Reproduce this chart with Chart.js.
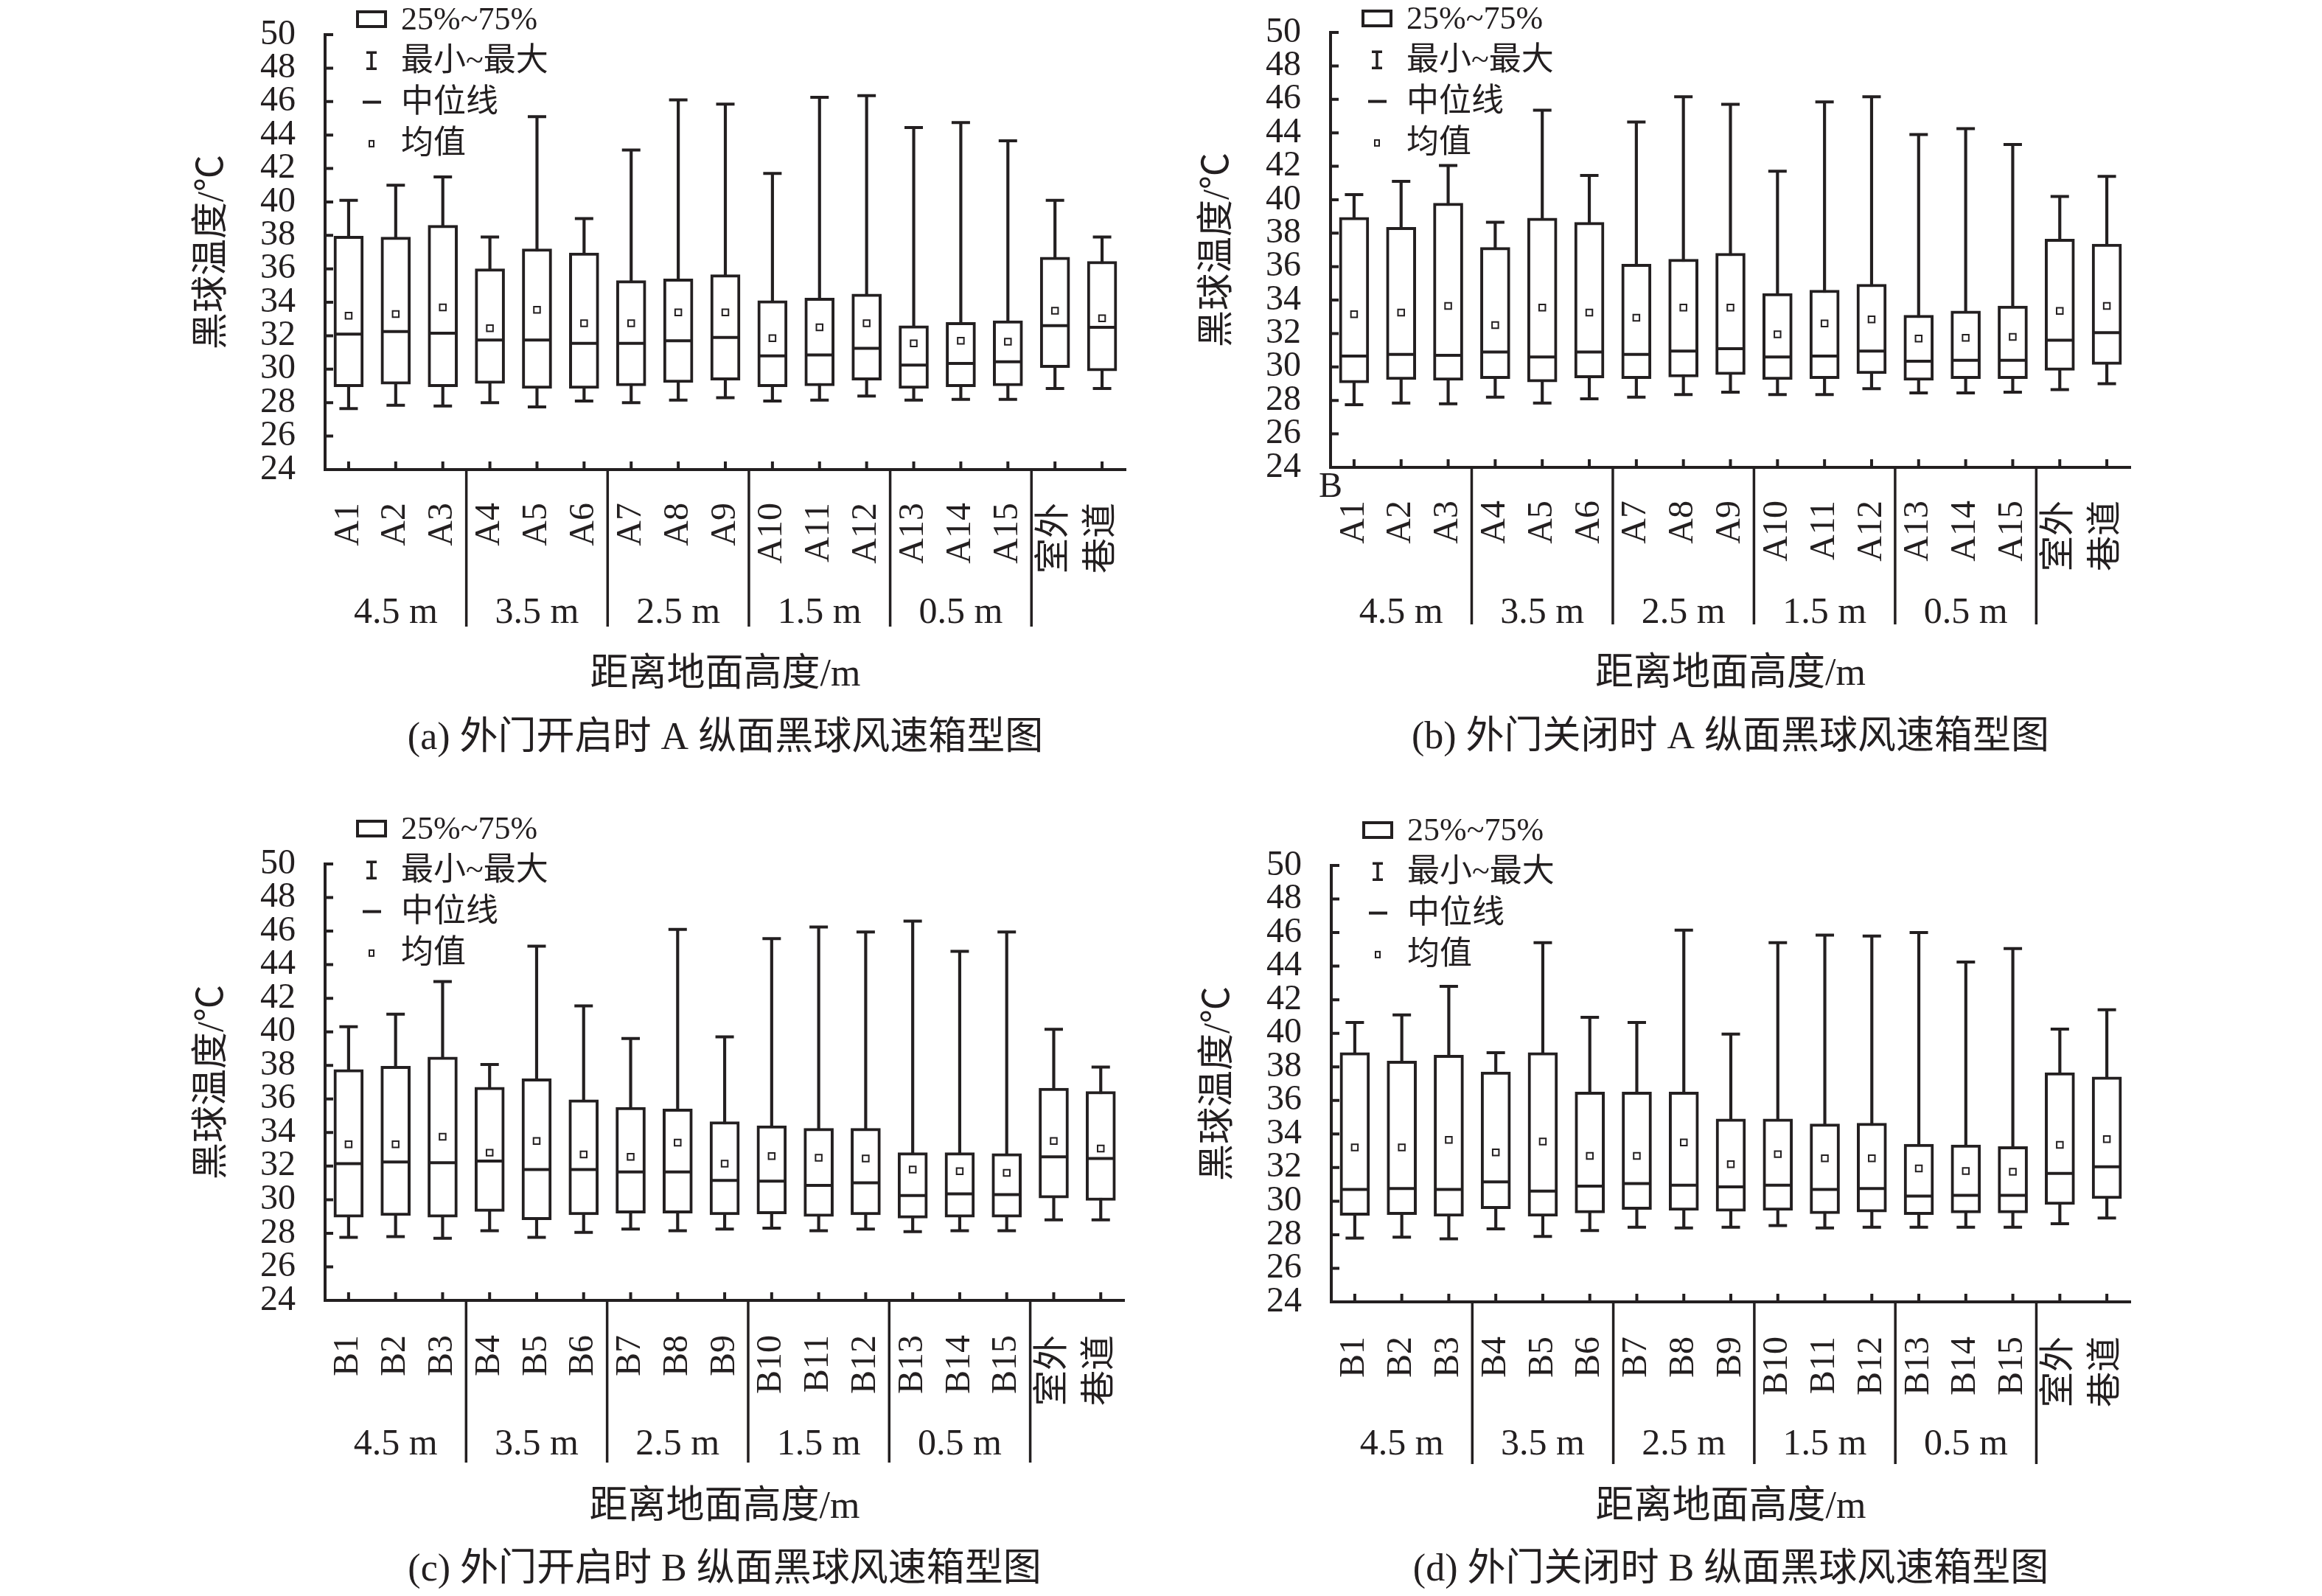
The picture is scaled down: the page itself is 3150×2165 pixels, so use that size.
<!DOCTYPE html>
<html lang="zh">
<head>
<meta charset="UTF-8">
<title>黑球温度箱型图</title>
<script src="https://cdn.jsdelivr.net/npm/chart.js"></script>
<style>
  html, body { margin: 0; padding: 0; background: #fff; }
  #page { position: relative; width: 3150px; height: 2165px; background: #fff; overflow: hidden; }
  #page canvas { position: absolute; }
</style>
</head>
<body>
<div id="page">
  <canvas id="chartA"></canvas>
  <canvas id="chartB"></canvas>
  <canvas id="chartC"></canvas>
  <canvas id="chartD"></canvas>
</div>
<script>
// categories and ticks
const labelsA = ['A1','A2','A3','A4','A5','A6','A7','A8','A9','A10','A11','A12','A13','A14','A15','室外','巷道'];
const labelsB = ['B1','B2','B3','B4','B5','B6','B7','B8','B9','B10','B11','B12','B13','B14','B15','室外','巷道'];
const groupNames = ['4.5 m','3.5 m','2.5 m','1.5 m','0.5 m'];
const yTickValues = [24,26,28,30,32,34,36,38,40,42,44,46,48,50];

// (a) 外门开启时 A 纵面
const openAMax  = [40.1, 41.0, 41.5, 37.9, 45.1, 39.0, 43.1, 46.1, 45.85, 41.7, 46.25, 46.35, 44.45, 44.75, 43.65, 40.1, 37.9];
const openAQ3   = [37.95, 37.9, 38.6, 36.0, 37.2, 36.95, 35.3, 35.4, 35.65, 34.1, 34.25, 34.5, 32.6, 32.8, 32.9, 36.7, 36.45];
const openAMed  = [32.1, 32.25, 32.15, 31.75, 31.75, 31.55, 31.55, 31.7, 31.9, 30.8, 30.85, 31.25, 30.25, 30.35, 30.45, 32.6, 32.5];
const openAMean = [33.2, 33.3, 33.7, 32.45, 33.55, 32.75, 32.75, 33.4, 33.4, 31.85, 32.5, 32.75, 31.55, 31.7, 31.65, 33.5, 33.05];
const openAQ1   = [28.95, 29.1, 28.95, 29.15, 28.85, 28.85, 29.0, 29.2, 29.35, 28.95, 29.0, 29.35, 28.85, 28.95, 29.0, 30.1, 29.9];
const openAMin  = [27.65, 27.85, 27.8, 28.0, 27.75, 28.1, 28.0, 28.15, 28.3, 28.1, 28.15, 28.4, 28.15, 28.2, 28.2, 28.85, 28.85];

// (b) 外门关闭时 A 纵面
const closeAMax  = [40.3, 41.1, 42.05, 38.65, 45.35, 41.45, 44.65, 46.15, 45.7, 41.7, 45.85, 46.15, 43.9, 44.25, 43.3, 40.2, 41.4];
const closeAQ3   = [38.95, 38.35, 39.8, 37.15, 38.9, 38.65, 36.15, 36.45, 36.8, 34.4, 34.6, 34.95, 33.1, 33.35, 33.65, 37.65, 37.35];
const closeAMed  = [30.65, 30.75, 30.7, 30.9, 30.6, 30.9, 30.75, 30.95, 31.1, 30.6, 30.65, 30.95, 30.35, 30.4, 30.4, 31.6, 32.05];
const closeAMean = [33.15, 33.25, 33.65, 32.5, 33.55, 33.25, 32.95, 33.55, 33.55, 31.95, 32.6, 32.85, 31.7, 31.75, 31.8, 33.35, 33.65];
const closeAQ1   = [29.05, 29.25, 29.2, 29.3, 29.1, 29.35, 29.3, 29.4, 29.55, 29.25, 29.3, 29.6, 29.2, 29.3, 29.3, 29.8, 30.15];
const closeAMin  = [27.75, 27.85, 27.8, 28.2, 27.85, 28.1, 28.2, 28.35, 28.5, 28.35, 28.35, 28.7, 28.45, 28.45, 28.5, 28.65, 29.0];

// (c) 外门开启时 B 纵面
const openBMax  = [40.3, 41.05, 43.0, 38.05, 45.1, 41.55, 39.6, 46.1, 39.7, 45.55, 46.25, 45.95, 46.6, 44.8, 45.95, 40.15, 37.9];
const openBQ3   = [37.75, 37.95, 38.5, 36.7, 37.2, 35.95, 35.5, 35.4, 34.65, 34.4, 34.25, 34.25, 32.8, 32.8, 32.75, 36.65, 36.45];
const openBMed  = [32.15, 32.25, 32.2, 32.3, 31.8, 31.8, 31.65, 31.65, 31.15, 31.1, 30.85, 31.0, 30.25, 30.35, 30.3, 32.55, 32.45];
const openBMean = [33.3, 33.3, 33.75, 32.8, 33.5, 32.7, 32.55, 33.4, 32.15, 32.6, 32.5, 32.45, 31.8, 31.7, 31.6, 33.5, 33.05];
const openBQ1   = [28.95, 29.05, 28.95, 29.3, 28.8, 29.1, 29.2, 29.2, 29.1, 29.15, 29.0, 29.1, 28.9, 28.95, 28.95, 30.1, 29.95];
const openBMin  = [27.75, 27.8, 27.7, 28.15, 27.75, 28.05, 28.25, 28.15, 28.25, 28.3, 28.15, 28.25, 28.1, 28.15, 28.15, 28.8, 28.8];

// (d) 外门关闭时 B 纵面
const closeBMax  = [40.65, 41.1, 42.8, 38.85, 45.4, 40.95, 40.65, 46.15, 39.95, 45.4, 45.85, 45.8, 46.0, 44.25, 45.05, 40.25, 41.4];
const closeBQ3   = [38.85, 38.35, 38.7, 37.7, 38.85, 36.5, 36.5, 36.5, 34.9, 34.9, 34.6, 34.65, 33.4, 33.35, 33.25, 37.65, 37.4];
const closeBMed  = [30.7, 30.75, 30.7, 31.15, 30.6, 30.9, 31.05, 30.95, 30.85, 30.95, 30.7, 30.75, 30.3, 30.35, 30.35, 31.65, 32.05];
const closeBMean = [33.2, 33.2, 33.65, 32.9, 33.55, 32.7, 32.7, 33.5, 32.2, 32.8, 32.55, 32.55, 31.95, 31.8, 31.75, 33.35, 33.7];
const closeBQ1   = [29.15, 29.2, 29.1, 29.55, 29.1, 29.3, 29.5, 29.45, 29.4, 29.45, 29.25, 29.35, 29.2, 29.3, 29.3, 29.8, 30.15];
const closeBMin  = [27.8, 27.85, 27.75, 28.35, 27.9, 28.25, 28.45, 28.4, 28.45, 28.55, 28.4, 28.45, 28.45, 28.45, 28.45, 28.65, 29.0];

const INK = '#231f20';
const FONT = "'Liberation Serif', 'Noto Sans CJK SC', serif";

// page layout: plot area [left, top, right, bottom] in page pixels
const panels = [
  { id: 'chartA', top: 0, h: 1080, area: [441, 47, 1527, 637], labels: labelsA,
    max: openAMax, q3: openAQ3, med: openAMed, mean: openAMean, q1: openAQ1, min: openAMin,
    caption: '(a) 外门开启时 A 纵面黑球风速箱型图', legendTop: -21, lab: 45, grp: 195, sep: 213, ttl: 279, cap: 365 },
  { id: 'chartB', top: 0, h: 1080, area: [1805, 44, 2890, 634], labels: labelsA,
    max: closeAMax, q3: closeAQ3, med: closeAMed, mean: closeAMean, q1: closeAQ1, min: closeAMin,
    caption: '(b) 外门关闭时 A 纵面黑球风速箱型图', legendTop: -19, lab: 45, grp: 198, sep: 213, ttl: 281, cap: 367, stray: 'B' },
  { id: 'chartC', top: 1100, h: 1065, area: [441, 1172, 1527, 1764], labels: labelsB,
    max: openBMax, q3: openBQ3, med: openBMed, mean: openBMean, q1: openBQ1, min: openBMin,
    caption: '(c) 外门开启时 B 纵面黑球风速箱型图', legendTop: -48, lab: 47, grp: 196, sep: 220, ttl: 281, cap: 366 },
  { id: 'chartD', top: 1100, h: 1065, area: [1806, 1174, 2890, 1766], labels: labelsB,
    max: closeBMax, q3: closeBQ3, med: closeBMed, mean: closeBMean, q1: closeBQ1, min: closeBMin,
    caption: '(d) 外门关闭时 B 纵面黑球风速箱型图', legendTop: -48, lab: 47, grp: 194, sep: 220, ttl: 279, cap: 364 }
];

const panelDeco = {
  id: 'panelDeco',
  afterDraw(chart, args, o) {
    const { ctx, chartArea: a, scales: { x, y } } = chart;
    const px = i => x.getPixelForValue(i);
    ctx.save();
    ctx.strokeStyle = INK;
    ctx.fillStyle = INK;

    // ticks point inward
    ctx.lineWidth = 4;
    ctx.beginPath();
    yTickValues.forEach(v => {
      const py = y.getPixelForValue(v);
      ctx.moveTo(a.left, py); ctx.lineTo(a.left + 11, py);
    });
    chart.data.labels.forEach((l, i) => {
      ctx.moveTo(px(i), a.bottom); ctx.lineTo(px(i), a.bottom - 11);
    });
    ctx.stroke();

    // group separators under the axis
    ctx.lineWidth = 3.5;
    ctx.beginPath();
    [2, 5, 8, 11, 14].forEach(i => {
      const sx = (px(i) + px(i + 1)) / 2;
      ctx.moveTo(sx, a.bottom); ctx.lineTo(sx, a.bottom + o.sep);
    });
    ctx.stroke();

    ctx.textAlign = 'center';
    ctx.textBaseline = 'middle';
    ctx.font = '50px ' + FONT;
    groupNames.forEach((g, k) => {
      ctx.fillText(g, (px(3 * k) + px(3 * k + 2)) / 2, a.bottom + o.grp);
    });

    ctx.font = '52px ' + FONT;
    ctx.fillText(o.caption, (a.left + a.right) / 2, a.bottom + o.cap);

    if (o.stray) {
      ctx.font = '48px ' + FONT;
      ctx.fillText(o.stray, a.left, a.bottom + 27);
    }

    // legend
    const lx = a.left + 63;
    const rows = [0, 1, 2, 3].map(r => a.top + o.legendTop + r * 56.3);
    ctx.lineWidth = 4;
    ctx.strokeRect(lx - 19, rows[0] - 10, 38, 20);
    ctx.lineWidth = 3.5;
    ctx.beginPath();
    ctx.moveTo(lx, rows[1] - 11); ctx.lineTo(lx, rows[1] + 11);
    ctx.moveTo(lx - 7, rows[1] - 11); ctx.lineTo(lx + 7, rows[1] - 11);
    ctx.moveTo(lx - 7, rows[1] + 11); ctx.lineTo(lx + 7, rows[1] + 11);
    ctx.stroke();
    ctx.lineWidth = 4;
    ctx.beginPath();
    ctx.moveTo(lx - 12, rows[2]); ctx.lineTo(lx + 13, rows[2]);
    ctx.stroke();
    ctx.lineWidth = 2;
    ctx.strokeRect(lx - 3, rows[3] - 4, 6, 8);

    ctx.textAlign = 'left';
    ctx.font = '44px ' + FONT;
    ['25%~75%', '最小~最大', '中位线', '均值'].forEach((t, r) => {
      ctx.fillText(t, a.left + 103, rows[r] + 2);
    });
    ctx.restore();
  }
};

function buildPanel(p) {
  const canvas = document.getElementById(p.id);
  const left = p.area[0] - 241;
  const w = 1400;
  canvas.width = w;
  canvas.height = p.h;
  canvas.style.left = left + 'px';
  canvas.style.top = p.top + 'px';
  const aT = p.area[1] - p.top;
  const aR = p.area[2] - left;
  const aB = p.area[3] - p.top;

  new Chart(canvas, {
    type: 'bar',
    data: {
      labels: p.labels,
      datasets: [
        { type: 'line', label: '均值', data: p.mean, showLine: false, pointStyle: 'rect', pointRadius: 6,
          pointBackgroundColor: '#fff', pointBorderColor: INK, pointBorderWidth: 2, order: 0 },
        { type: 'line', label: '中位线', data: p.med, showLine: false, pointStyle: 'line', pointRadius: 18,
          pointBorderColor: INK, pointBorderWidth: 4, order: 1 },
        { type: 'line', label: '最大', data: p.max, showLine: false, pointStyle: 'line', pointRadius: 12.5,
          pointBorderColor: INK, pointBorderWidth: 4, order: 1 },
        { type: 'line', label: '最小', data: p.min, showLine: false, pointStyle: 'line', pointRadius: 12.5,
          pointBorderColor: INK, pointBorderWidth: 4, order: 1 },
        { label: '25%~75%', data: p.q1.map((v, i) => [v, p.q3[i]]), backgroundColor: '#fff', borderColor: INK,
          borderWidth: 4, borderSkipped: false, barThickness: 40, grouped: false, order: 2 },
        { label: '最小~最大', data: p.min.map((v, i) => [v, p.max[i]]), backgroundColor: INK,
          barThickness: 3.5, grouped: false, order: 3 }
      ]
    },
    options: {
      responsive: false,
      animation: false,
      devicePixelRatio: 1,
      events: [],
      layout: { padding: { left: 0, top: aT, right: w - aR, bottom: 0 } },
      plugins: {
        legend: { display: false },
        tooltip: { enabled: false },
        panelDeco: p
      },
      scales: {
        x: {
          type: 'category',
          offset: true,
          grid: { display: false, drawTicks: false },
          border: { display: true, color: INK, width: 4 },
          ticks: { color: INK, font: { family: FONT, size: 48 }, minRotation: 90, maxRotation: 90,
                   autoSkip: false, padding: p.lab },
          title: { display: true, text: '距离地面高度/m', color: INK, font: { family: FONT, size: 52 },
                   padding: { top: 0, bottom: p.h - aB - p.ttl - 31.2 } },
          afterFit: s => { s.height = p.h - aB; }
        },
        y: {
          min: 24, max: 50,
          grid: { display: false, drawTicks: false },
          border: { display: true, color: INK, width: 4 },
          ticks: { color: INK, font: { family: FONT, size: 48 }, padding: 40, autoSkip: false },
          afterBuildTicks: s => { s.ticks = yTickValues.map(v => ({ value: v })); },
          title: { display: true, text: '黑球温度/℃', color: INK, font: { family: FONT, size: 50 },
                   padding: { top: 59, bottom: 0 } },
          afterFit: s => { s.width = 241; s.paddingTop = 10; s.paddingBottom = 10; }
        }
      }
    },
    plugins: [panelDeco]
  });
}

panels.forEach(buildPanel);
</script>
</body>
</html>
